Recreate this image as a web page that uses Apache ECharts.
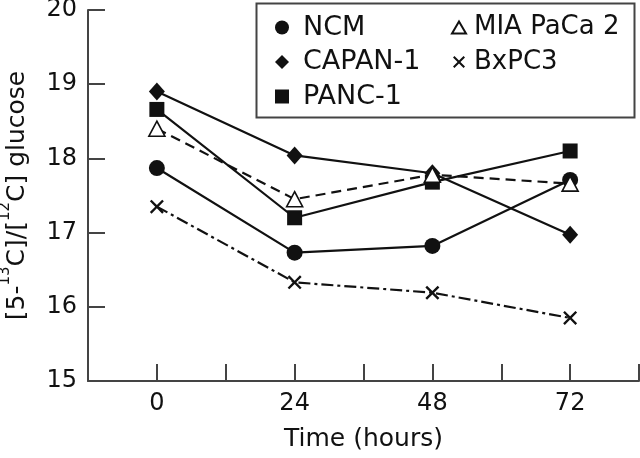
<!DOCTYPE html>
<html>
<head>
<meta charset="utf-8">
<script src="https://cdn.jsdelivr.net/npm/echarts@6/dist/echarts.min.js"></script>
<style>html,body{margin:0;padding:0;background:#fff}#c{width:640px;height:458px}</style>
</head>
<body>
<div id="c"></div>
<script>
const hours = [0, 24, 48, 72];
const seriesNames = ['NCM', 'CAPAN-1', 'PANC-1', 'MIA PaCa 2', 'BxPC3'];
const ncm = [17.87, 16.73, 16.82, 17.71];
const capan1 = [18.90, 18.04, 17.80, 16.97];
const panc1 = [18.66, 17.20, 17.68, 18.10];
const miaPaCa2 = [18.40, 17.45, 17.78, 17.66];
const bxpc3 = [17.35, 16.33, 16.19, 15.85];
const xTickLabels = ['0', '24', '48', '72'];

const FONT = 'DejaVu Sans';
const INK = '#111';
const AXIS = '#444';
const crossPath = 'path://M0,1.2L1.2,0L5,3.8L8.8,0L10,1.2L6.2,5L10,8.8L8.8,10L5,6.2L1.2,10L0,8.8L3.8,5Z';

function pairs(vals) { return hours.map((h, i) => [h, vals[i]]); }

const defs = [
  { name: seriesNames[0], data: ncm, symbol: 'circle', size: 16, fill: INK, line: 'solid' },
  { name: seriesNames[1], data: capan1, symbol: 'diamond', size: [16, 18], fill: INK, line: 'solid' },
  { name: seriesNames[2], data: panc1, symbol: 'rect', size: 15, fill: INK, line: 'solid' },
  { name: seriesNames[3], data: miaPaCa2, symbol: 'triangle', size: [16, 15], fill: '#fff', line: [10, 6] },
  { name: seriesNames[4], data: bxpc3, symbol: crossPath, size: 14, fill: INK, line: [12, 4, 3, 4] }
];

const series = defs.map(d => ({
  name: d.name,
  type: 'line',
  data: pairs(d.data),
  symbol: d.symbol,
  symbolSize: d.size,
  showAllSymbol: true,
  animation: false,
  lineStyle: { color: INK, width: 2.2, type: d.line },
  itemStyle: d.fill === '#fff'
    ? { color: '#fff', borderColor: INK, borderWidth: 1.6 }
    : { color: INK, borderWidth: 0 },
  emphasis: { disabled: true }
}));

const chart = echarts.init(document.getElementById('c'), null, { renderer: 'canvas' });
chart.setOption({
  animation: false,
  backgroundColor: '#fff',
  textStyle: { fontFamily: FONT },
  grid: { left: 88, right: 1, top: 10, bottom: 77, containLabel: false, outerBoundsMode: 'none' },
  xAxis: {
    type: 'value', min: -12, max: 84, interval: 12,
    axisLine: { onZero: false, lineStyle: { color: AXIS, width: 2 } },
    axisTick: { inside: true, length: 17, lineStyle: { color: AXIS, width: 2 } },
    splitLine: { show: false },
    axisLabel: {
      margin: 11, color: INK, fontSize: 24, fontFamily: FONT,
      formatter: v => { const i = hours.indexOf(v); return i >= 0 ? xTickLabels[i] : ''; }
    },
    name: 'Time (hours)', nameLocation: 'middle', nameGap: 46,
    nameTextStyle: { color: INK, fontSize: 25, fontFamily: FONT }
  },
  yAxis: {
    type: 'value', min: 15, max: 20, interval: 1,
    axisLine: { onZero: false, lineStyle: { color: AXIS, width: 2 } },
    axisTick: { inside: true, length: 17, lineStyle: { color: AXIS, width: 2 } },
    splitLine: { show: false },
    axisLabel: { margin: 11, color: INK, fontSize: 24, fontFamily: FONT },
    name: '{b|[5-}{s|13}{b|C]/[}{s|12}{b|C] glucose}', nameLocation: 'middle', nameGap: 58,
    nameTextStyle: {
      color: INK, fontFamily: FONT,
      rich: {
        b: { fontSize: 25, fontFamily: FONT, color: INK, lineHeight: 32, verticalAlign: 'bottom' },
        s: { fontSize: 15, fontFamily: FONT, color: INK, lineHeight: 32, verticalAlign: 'top' }
      }
    }
  },
  legend: [
    {
      data: [
        { name: seriesNames[0], icon: 'circle' },
        { name: seriesNames[1], icon: 'diamond' },
        { name: seriesNames[2], icon: 'rect' }
      ],
      orient: 'vertical', left: 270, top: 9,
      itemWidth: 14, itemHeight: 14, itemGap: 7.5,
      textStyle: { color: INK, fontSize: 27, fontFamily: FONT, lineHeight: 27, padding: [0, 0, 0, 9] },
      selectedMode: false
    },
    {
      data: [
        { name: seriesNames[3], icon: 'triangle' },
        { name: seriesNames[4], icon: crossPath }
      ],
      orient: 'vertical', left: 446, top: 9,
      itemWidth: 14, itemHeight: 12, itemGap: 7.5,
      textStyle: { color: INK, fontSize: 26, fontFamily: FONT, lineHeight: 27, padding: [0, 0, 0, 3] },
      selectedMode: false
    }
  ],
  graphic: [
    { type: 'rect', left: 254, top: 1, shape: { width: 378, height: 114 },
      style: { fill: 'none', stroke: AXIS, lineWidth: 2 }, z: 10 }
  ],
  series: series
});
</script>
</body>
</html>
